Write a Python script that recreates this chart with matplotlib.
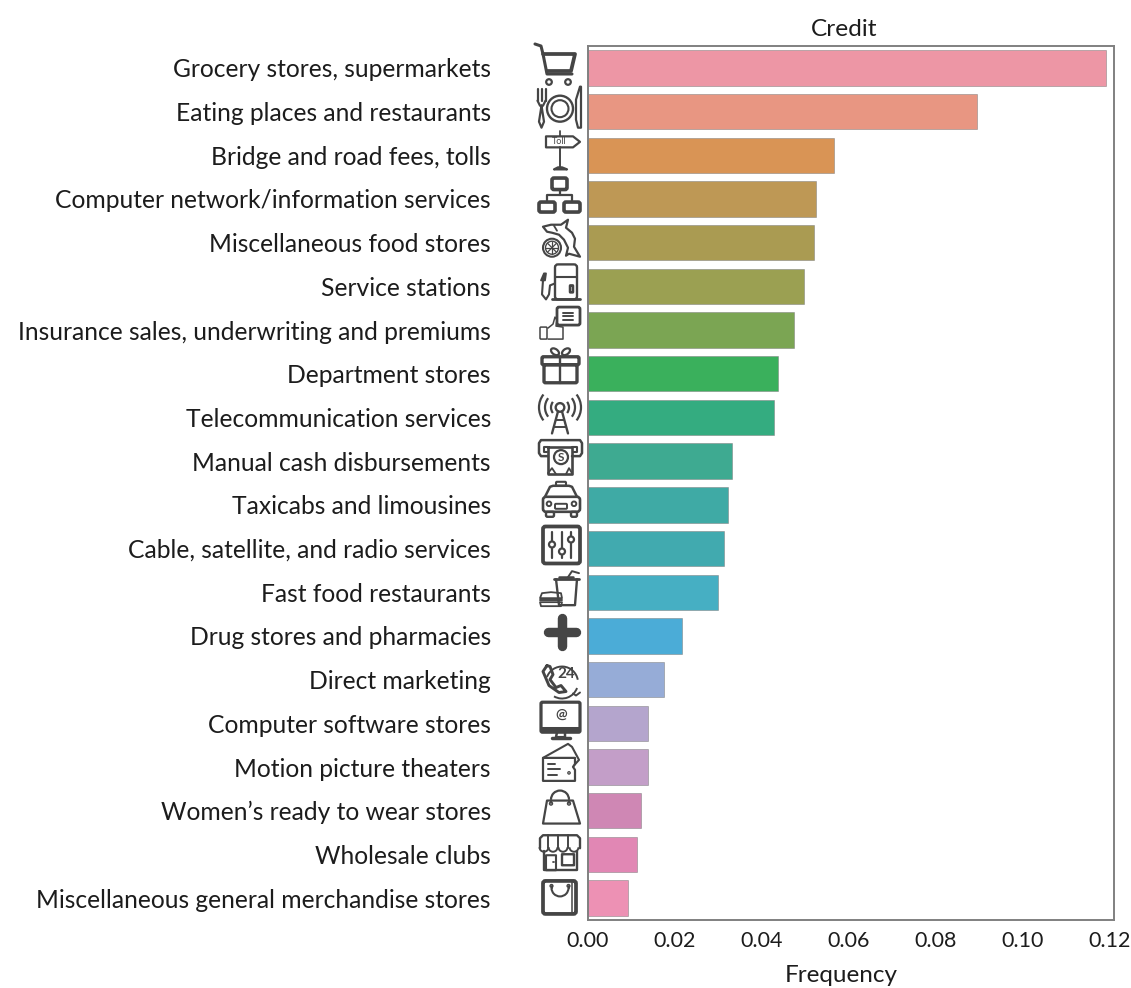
#!/usr/bin/env python3
# -*- coding: utf-8 -*-

import numpy as np
import matplotlib
matplotlib.use('Agg')
import matplotlib.pyplot as plt
from matplotlib.patches import Circle, Ellipse, Polygon, FancyBboxPatch, Arc

plt.rcParams['font.family'] = ['Lato', 'DejaVu Sans']

categories = ['Grocery stores, supermarkets', 'Eating places and restaurants',
              'Bridge and road fees, tolls', 'Computer network/information services',
              'Miscellaneous food stores', 'Service stations',
              'Insurance sales, underwriting and premiums', 'Department stores',
              'Telecommunication services', 'Manual cash disbursements',
              'Taxicabs and limousines', 'Cable, satellite, and radio services',
              'Fast food restaurants', 'Drug stores and pharmacies', 'Direct marketing',
              'Computer software stores', 'Motion picture theaters',
              'Women\u2019s ready to wear stores', 'Wholesale clubs',
              'Miscellaneous general merchandise stores']
frequency = [0.1191, 0.0894, 0.0566, 0.0524, 0.0520, 0.0497, 0.0474, 0.0437, 0.0428, 0.0333,
             0.0324, 0.0313, 0.0299, 0.0218, 0.0175, 0.0140, 0.0140, 0.0122, 0.0113, 0.0094]
bar_colors = ['#ed96a5', '#e89682', '#d99455', '#be9855', '#aa9b52', '#9ba052', '#7ba553',
              '#3ab05c', '#34ac80', '#3eaa91', '#3faaa5', '#41aaaf', '#46afc3', '#4bacd7',
              '#96acd7', '#b4a5cd', '#c39ec8', '#cf87b4', '#e187b4', '#ed91b4']
x_ticks = [0.00, 0.02, 0.04, 0.06, 0.08, 0.10, 0.12]

W, H = 1131, 988
DARK = '#454545'

fig = plt.figure(figsize=(W / 100, H / 100), dpi=100)
ax = fig.add_axes([587.5 / W, 1 - 920 / H, 526.5 / W, 874 / H])
y = np.arange(len(categories))
ax.barh(y, frequency, height=0.81, color=bar_colors, edgecolor=(0.5, 0.5, 0.5, 0.6), linewidth=0.6)
ax.set_ylim(19.5, -0.5)
ax.set_xlim(0, 0.121)
ax.set_yticks(y)
ax.set_yticklabels(categories, fontsize=17.7, color='#1c1c1c')
ax.set_xticks(x_ticks)
ax.set_xticklabels(['%.2f' % t for t in x_ticks], fontsize=15.5, color='#1c1c1c')
ax.tick_params(axis='both', length=0)
ax.tick_params(axis='y', pad=69.5)
ax.tick_params(axis='x', pad=8)
ax.set_xlabel('Frequency', fontsize=17.5, x=0.482, labelpad=10, color='#1c1c1c')
ax.set_title('Credit', fontsize=17.6, x=0.488, pad=7.5, color='#1c1c1c')
for s in ax.spines.values():
    s.set_color('#808080')
    s.set_linewidth(1.4)

# Icons are drawn in pixel coordinates on a layer over the whole figure
ov = fig.add_axes([0, 0, 1, 1], zorder=5)
ov.set_xlim(0, W)
ov.set_ylim(H, 0)
ov.axis('off')
ov.patch.set_alpha(0)

cx, cy = 559, 68


def row(i):
    global cy
    cy = 68 + i * 43.68


def L(pts, lw=1.7, c=DARK):
    p = np.array(pts, dtype=float)
    ov.plot(p[:, 0] + cx, p[:, 1] + cy, color=c, lw=lw, solid_capstyle='round', solid_joinstyle='round')


def P(pts, lw=1.7, fc='white', closed=True):
    p = np.array(pts, dtype=float) + [cx, cy]
    ov.add_patch(Polygon(p, closed=closed, fc=fc, ec=DARK, lw=lw, joinstyle='round'))


def R(x0, y0, x1, y1, lw=1.9, r=1.5, fc='none'):
    ov.add_patch(FancyBboxPatch((x0 + cx + r, y0 + cy + r), x1 - x0 - 2 * r, y1 - y0 - 2 * r,
                                boxstyle='round,pad=%g,rounding_size=%g' % (r, r),
                                fc=fc, ec=DARK, lw=lw))


def C(x0, y0, r, lw=1.5, fc='none'):
    ov.add_patch(Circle((x0 + cx, y0 + cy), r, fc=fc, ec=DARK, lw=lw))


def T(x0, y0, s, size=6, **kw):
    ov.text(x0 + cx, y0 + cy, s, fontsize=size, color=DARK, ha='center', va='center', **kw)


def A(x0, y0, r, t1, t2, lw=1.5):
    ov.add_patch(Arc((x0 + cx, y0 + cy), 2 * r, 2 * r, theta1=t1, theta2=t2, ec=DARK, lw=lw))


# cart
row(0)
L([(-24, -24), (-18, -22), (-16, -14), (-12, 6), (13, 6)], 2.2)
L([(-16, -14), (16, -14), (12, 3), (-12, 3)], 2.7)
C(-10, 14, 2.8, 1.6)
C(9, 14, 2.8, 1.6)

# plate and cutlery
row(1)
for tx in (-21.5, -17.5, -13.5):
    L([(tx, -23), (tx, -11)], 1.6)
L([(-21.5, -11), (-19, -6), (-16, -6), (-13.5, -11)], 1.6)
L([(-17.5, -6), (-20, 10), (-17.5, 16), (-15, 10), (-17.5, -6)], 1.6)
C(1, -3, 13, 1.7)
C(1, -3, 8.5, 1.5)
P([(21, -25), (22, -25), (22, 16), (19, 16), (17, 8), (17, -12)], 1.6)

# toll sign
row(2)
L([(1, -24), (1, -19)], 1.3)
P([(-13, -19), (14, -19), (21, -13.5), (14, -8), (-13, -8)], 1.6)
T(0, -13.5, 'Toll', 6.5)
L([(1, -8), (1, 12)], 1.4)
P([(-5, 14), (-1, 12), (3, 12), (8, 14)], 1.6)

# network
row(3)
R(-7, -21, 8, -9.5, 2.6, 2)
L([(1, -9.5), (1, -4)], 1.6)
L([(-12, 3), (-12, -4), (13, -4), (13, 3)], 1.6)
R(-20, 3, -4, 13, 2.6, 2)
R(5, 3, 21, 13, 2.6, 2)

# fish and wheel
row(4)
P([(-16, -16), (-8, -18), (2, -18), (9, -23), (7, -15), (13, -10), (16, -4), (15, 4), (21, 14),
   (10, 11), (7, 13), (9, 5), (5, -3), (0, -8), (-7, -10), (-12, -11)], 1.6)
L([(-5, -17), (-2, -12)], 1.3)
C(-7, 5, 9, 1.5, 'white')
C(-7, 5, 6.5, 1.0)
for a in np.arange(0, 180, 45):
    dx, dy = 6 * np.cos(np.radians(a)), 6 * np.sin(np.radians(a))
    L([(-7 - dx, 5 - dy), (-7 + dx, 5 + dy)], 0.9)

# fuel pump
row(5)
R(-4, -22, 18, 13, 1.7, 3)
L([(-4, -9), (18, -9)], 1.5)
R(11, -1, 14, 6, 1.8, 0.5)
L([(-7, 13), (21, 13)], 2.0)
L([(-16, -6), (-17, 8), (-13, 13), (-10, 8), (-9, -1), (-4, -3)], 1.5)
P([(-18, -6), (-15, -13), (-13, -13), (-14, -6)], 1.3, fc=DARK)

# thumbs up and document
row(6)
R(-2, -23, 21, -5, 2.0, 2)
for ly in (-17, -14, -10):
    L([(4, ly), (14, ly)], 1.4)
R(-19, -3, -12, 9, 1.1, 1)
L([(-11, -2), (-6, -6), (-4, -13), (-2, -10), (-3, -4), (4, -3), (4, 9), (-11, 9)], 1.1)

# gift
row(7)
R(-17, -17, 20, -9, 2.4, 1.5)
R(-15, -9, 18, 9, 2.4, 1.5)
L([(1, -17), (1, 9)], 1.7)
ov.add_patch(Ellipse((cx - 4, cy - 22), 9, 5.5, angle=35, fc='none', ec=DARK, lw=1.6))
ov.add_patch(Ellipse((cx + 7, cy - 22), 9, 5.5, angle=-35, fc='none', ec=DARK, lw=1.6))

# antenna
row(8)
C(1, -10, 4.3, 1.7)
L([(-1, -6), (-7, 16)], 1.7)
L([(3, -6), (9, 16)], 1.7)
L([(-3, 3), (5, 3)], 1.4)
L([(-5, 10), (7, 10)], 1.4)
for r in (9, 15, 21):
    A(1, -10, r, -38, 38, 1.6)
    A(1, -10, r, 142, 218, 1.6)

# ATM and banknote
row(9)
L([(-11, -5), (-18, -5), (-20, -8), (-20, -18), (-18, -21), (21, -21), (23, -18), (23, -8),
   (21, -5), (13, -5)], 1.8)
L([(-11, -14), (-15, -14), (-15, -9), (-12, -9)], 1.5)
L([(13, -14), (18, -14), (18, -9), (14, -9)], 1.5)
L([(-11, -14), (-11, 13), (13, 13), (13, -14), (-11, -14)], 1.9)
C(2, -4, 7, 1.6)
T(2, -4, 'S', 8.5, fontweight='bold')
L([(-11, 12), (-7, 7), (-3, 13)], 1.3)
L([(7, 13), (10, 7), (13, 12)], 1.3)

# taxi
row(10)
R(-3, -23, 7, -19, 1.5, 1)
L([(-14, -8), (-9, -18), (-6, -19), (10, -19), (13, -18), (18, -8)], 1.8)
R(-16, -8, 21, 7, 1.9, 3)
R(-13, 7, -5, 12, 1.7, 1.5)
R(12, 7, 18, 12, 1.7, 1.5)
C(-10, -1, 2.3, 1.4)
C(15, -1, 2.3, 1.4)
R(-4, -1, 8, 4, 1.4, 1)

# mixer
row(11)
R(-16, -22, 21, 15, 2.7, 2.5)
for kx, ky in ((-7, -4), (3, 3), (12, -9)):
    L([(kx, -16), (kx, 10)], 1.6)
    ov.add_patch(Circle((cx + kx, cy + ky), 3, fc='white', ec=DARK, lw=1.6, zorder=7))

# fast food
row(12)
L([(-5, -13), (20, -13)], 2.0)
L([(0, -15), (14, -15)], 1.8)
L([(-3, -13), (0, 13), (16, 13), (18, -13)], 1.7)
L([(9, -15), (13, -21), (20, -19)], 1.4)
P([(-19, 6), (-17, 1), (-8, 0), (2, 1), (3, 6)], 1.3)
L([(-19, 8), (3, 8)], 1.4)
P([(-19, 10), (3, 10), (2, 14), (-18, 14)], 1.3)

# plus sign
row(13)
L([(3, -18), (3, 10)], 6.8)
L([(-11, -4), (17, -4)], 6.8)

# phone 24
row(14)
A(3, 3, 16, 200, 350, 1.4)
A(3, 3, 16, 20, 120, 1.4)
L([(14, 14), (17, 16), (21, 13)], 1.4)
T(7, -5.5, '24', 11, fontweight='bold')
L([(-12, -14), (-16, -8), (-10, 6), (0, 13), (7, 12), (2, 6), (-3, 8), (-9, 0), (-6, -5),
   (-9, -13), (-12, -14)], 2.1)

# monitor
row(15)
R(-18, -21, 21, 9, 2.3, 1.5)
L([(-17, 6), (20, 6)], 2.9)
T(2, -8, '@', 10, fontweight='bold')
L([(-2, 9), (-3, 14), (6, 14), (6, 9)], 1.8)
L([(-7, 15), (11, 15)], 2.5)

# ticket
row(16)
P([(-16, -9), (9, -23), (13, -20), (20, -7), (11, 3), (-14, 3)], 1.5)
P([(-16, -9), (16, -9), (16, -3), (14, 0), (16, 3), (16, 14), (-16, 14)], 1.6)
L([(-11, -3), (-4, -3)], 1.4)
L([(-11, 2), (1, 2)], 1.4)
L([(-11, 8), (-2, 8)], 1.4)
C(10, 6, 1.2, 0.9)

# shopping bag
row(17)
P([(-12, -10), (14, -10), (21, 13), (-16, 13)], 1.6)
A(1, -11, 9, 180, 360, 1.6)
L([(-8, -11), (-8, -8)], 1.4)
L([(10, -11), (10, -8)], 1.4)
C(-8, -7, 1.5, 1.0)
C(10, -7, 1.5, 1.0)

# store
row(18)
L([(-19, -6), (-19, -16), (-16, -19), (18, -19), (21, -16), (21, -6)], 1.7)
for wx in (-11, -1, 9):
    L([(wx, -19), (wx, -6)], 1.4)
for wx in (-15, -6, 4, 15):
    A(wx, -7, 4.5, 0, 180, 1.4)
L([(-15, -3), (-15, 16), (18, 16), (18, -3)], 1.7)
R(-13, 1, -3, 16, 1.5, 0.2)
R(3, 0, 15, 11, 1.7, 0.2)
L([(-6, 8), (-5, 8)], 1.3)

# square bag
row(19)
R(-16, -17, 17, 16, 2.7, 2.5)
A(1, -10, 8.5, 0, 180, 1.5)
L([(-7.5, -12), (-7.5, -10)], 1.5)
L([(9.5, -12), (9.5, -10)], 1.5)
C(-7.5, -12, 1.4, 1.0)
C(9.5, -12, 1.4, 1.0)
L([(13, -17), (13, 16)], 1.1)

plt.savefig('out.png', dpi=100)
